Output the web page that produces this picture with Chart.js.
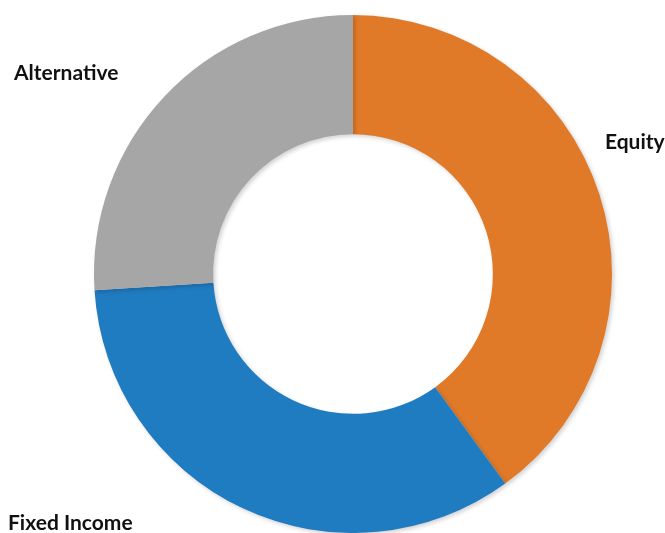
<!DOCTYPE html>
<html>
<head>
<meta charset="utf-8">
<script src="https://cdn.jsdelivr.net/npm/chart.js@4"></script>
<style>
  html, body { margin: 0; padding: 0; background: #ffffff; }
  #wrap { width: 665px; height: 533px; }
</style>
</head>
<body>
<div id="wrap"><canvas id="chartAlloc" width="665" height="533"></canvas></div>
<script>
// Datos del gráfico
const categorias = ['Equity', 'Fixed Income', 'Alternative'];
const valores = [40, 34, 26];
const colores = ['#e07a28', '#1f7cc1', '#a6a6a6'];

// Posición de cada etiqueta (x, línea base)
const labelPos = {
  'Equity': [605, 149],
  'Fixed Income': [8, 530],
  'Alternative': [14, 80]
};

const etiquetasPlugin = {
  id: 'etiquetas',
  afterDraw(chart) {
    const ctx = chart.ctx;
    ctx.save();
    ctx.fillStyle = '#111111';
    ctx.font = 'bold 21px Lato, "Liberation Sans", sans-serif';
    ctx.textBaseline = 'alphabetic';
    ctx.textAlign = 'left';
    chart.data.labels.forEach(l => {
      const p = labelPos[l];
      if (p) ctx.fillText(l, p[0], p[1]);
    });
    ctx.restore();
  }
};

const sombraPlugin = {
  id: 'sombra',
  beforeDatasetsDraw(chart) {
    const ctx = chart.ctx;
    ctx.save();
    ctx.shadowColor = 'rgba(0,0,0,0.18)';
    ctx.shadowBlur = 4;
    ctx.shadowOffsetX = 2;
    ctx.shadowOffsetY = 2;
  },
  afterDatasetsDraw(chart) {
    chart.ctx.restore();
  }
};

new Chart(document.getElementById('chartAlloc').getContext('2d'), {
  type: 'doughnut',
  data: {
    labels: categorias,
    datasets: [{
      data: valores,
      backgroundColor: colores,
      borderWidth: 0
    }]
  },
  options: {
    responsive: false,
    animation: false,
    cutout: '54%',
    layout: { padding: { left: 94, right: 53, top: 15, bottom: 0 } },
    plugins: {
      legend: { display: false },
      tooltip: { enabled: false }
    }
  },
  plugins: [sombraPlugin, etiquetasPlugin]
});
</script>
</body>
</html>
